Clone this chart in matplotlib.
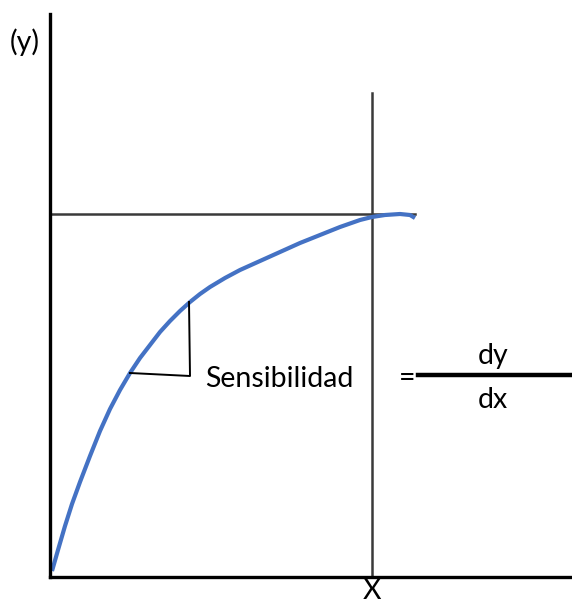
import matplotlib.pyplot as plt

# ------------------------------------------------------------
# Data (origin at the axes corner)
# ------------------------------------------------------------
curve_x = [2, 8, 15, 22, 30, 40, 50, 60, 70, 80, 90, 100, 110, 120, 130, 140,
           150, 160, 175, 190, 210, 230, 250, 270, 290, 310, 322, 335, 350, 360, 365]
curve_y = [6, 27, 51, 73, 95, 121, 146, 168, 187, 204, 219, 232, 245, 256, 266, 275,
           283, 290, 299, 307, 316, 325, 334, 342, 350, 357, 360, 362, 363, 362, 359]

# reference lines
h_line_x = [0, 365]
h_line_y = [363, 363]
v_line_x = [322, 322]
v_line_y = [0, 484]

# sensitivity triangle
tri_x = [80, 140, 139]
tri_y = [204, 201, 275]

# fraction bar
frac_x = [368, 522]
frac_y = [202, 202]

# ------------------------------------------------------------
# Plot
# ------------------------------------------------------------
W, H = 572, 605
fig = plt.figure(figsize=(W / 100, H / 100), dpi=100)
ax = fig.add_axes([50 / W, (H - 577) / H, (W - 50) / W, (577 - 14) / H])
ax.set_xlim(0, W - 50)
ax.set_ylim(0, 577 - 14)
ax.set_xticks([])
ax.set_yticks([])
for s in ["top", "right"]:
    ax.spines[s].set_visible(False)
for s in ["left", "bottom"]:
    ax.spines[s].set_linewidth(2.4)
    ax.spines[s].set_color("black")

ax.plot(h_line_x, h_line_y, color="#3a3a3a", lw=1.8, clip_on=False)
ax.plot(v_line_x, v_line_y, color="#3a3a3a", lw=1.8, clip_on=False)
ax.plot(curve_x, curve_y, color="#4472C4", lw=3, solid_capstyle="butt",
        solid_joinstyle="round", clip_on=False)
ax.plot(tri_x, tri_y, color="black", lw=1.4, clip_on=False)
ax.plot(frac_x, frac_y, color="black", lw=3.2, clip_on=False)

font = "Lato"
fs = 20.5
ax.text(155, 198, "Sensibilidad", fontsize=fs, family=font, va="center", ha="left")
ax.text(357, 199, "=", fontsize=fs, family=font, va="center", ha="center")
ax.text(443, 221, "dy", fontsize=fs, family=font, va="center", ha="center")
ax.text(443, 177, "dx", fontsize=fs, family=font, va="center", ha="center")

fig.text(25 / W, 1 - 42 / H, "(y)", fontsize=fs, family=font, va="center", ha="center")
fig.text(372 / W, 1 - 591 / H, "X", fontsize=fs, family=font, va="center", ha="center")

fig.savefig("out.png", dpi=100)
